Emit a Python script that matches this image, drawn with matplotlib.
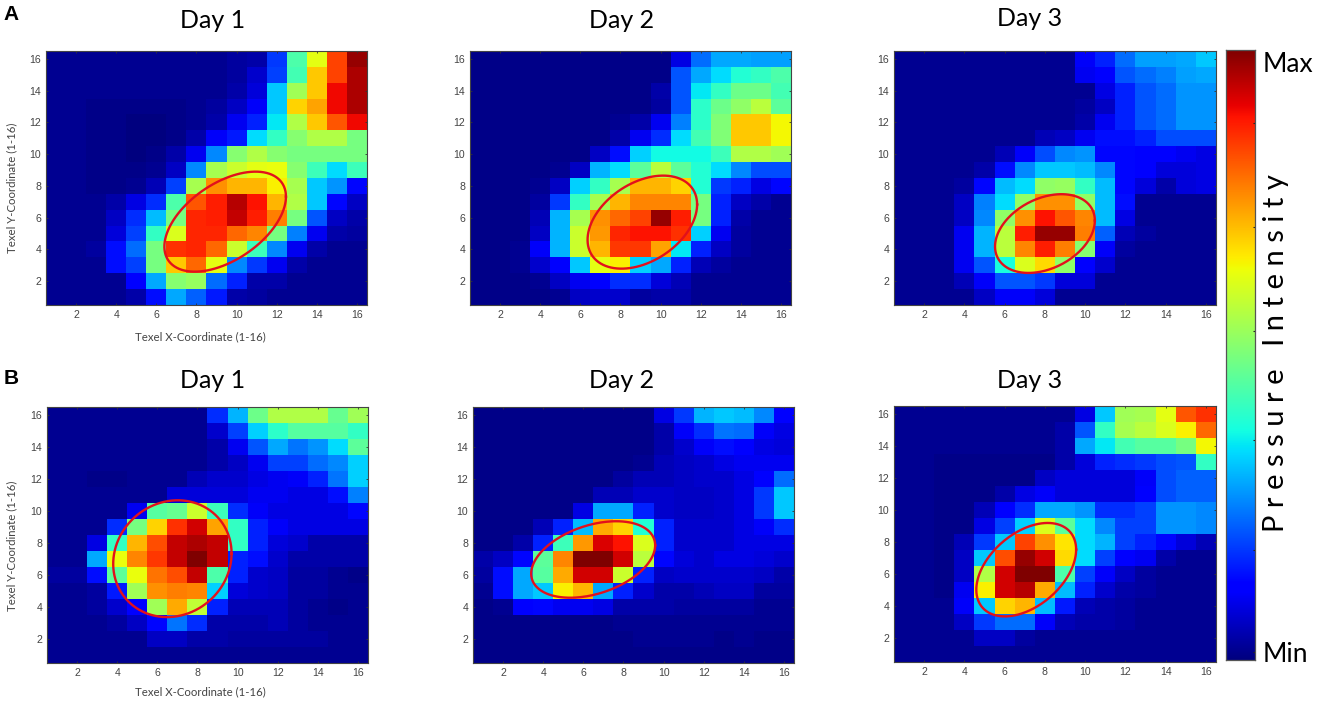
import numpy as np
import matplotlib
matplotlib.use("Agg")
import matplotlib.pyplot as plt

W, H = 1325, 706

# values in percent of the colour scale, rows run from y=16 down to y=1
a_day1 = [
    [3,3,3,3,3,3,3,3,3,4,5,19,45,63,84,98],
    [3,3,3,3,3,3,3,3,3,4,8,20,44,70,84,96],
    [3,3,3,3,3,3,3,3,3,5,9,33,55,70,90,96],
    [3,3,2,2,2,2,2,3,4,7,12,33,69,74,90,96],
    [3,3,2,2,1,1,2,3,5,11,17,36,57,70,82,90],
    [3,3,2,2,1,1,2,5,12,16,35,42,52,57,57,50],
    [3,3,2,2,1,2,5,11,27,52,57,52,50,50,50,50],
    [3,3,2,2,2,3,7,27,56,60,63,64,52,43,35,43],
    [3,3,2,2,3,6,20,56,76,72,72,66,56,33,28,14],
    [3,3,3,5,10,18,45,82,88,95,89,72,57,33,14,7],
    [3,3,3,7,18,32,50,87,88,94,88,78,50,22,7,5],
    [3,3,3,9,20,42,62,87,87,80,77,50,26,11,5,4],
    [3,3,4,15,24,50,86,87,80,60,43,27,11,5,3,3],
    [3,3,3,15,20,50,70,80,63,27,19,11,5,3,3,3],
    [3,3,3,3,13,30,52,54,24,17,5,5,3,3,3,3],
    [3,3,3,3,5,15,30,23,16,5,4,3,3,3,3,3],
]
a_day2 = [
    [2,2,2,2,2,2,2,2,2,2,10,24,30,30,29,29],
    [2,2,2,2,2,2,2,2,2,2,22,30,35,40,42,45],
    [2,2,2,2,2,2,2,2,2,5,22,36,42,49,49,44],
    [2,2,2,2,2,2,2,2,2,4,22,41,49,53,58,47],
    [2,2,2,2,2,2,2,3,5,11,26,41,51,70,70,65],
    [2,2,2,2,2,2,2,5,11,18,35,44,51,70,70,65],
    [2,2,2,2,2,2,7,15,34,38,38,38,43,57,57,55],
    [2,2,2,2,3,7,31,35,47,58,47,40,35,27,21,21],
    [2,2,2,3,7,34,42,56,72,72,69,40,19,17,10,14],
    [2,2,2,4,19,42,56,72,77,77,77,50,17,7,5,3],
    [2,2,2,6,31,56,76,80,84,98,88,50,17,5,3,3],
    [2,2,2,7,31,60,75,87,89,89,86,34,11,4,3,3],
    [2,2,3,12,31,60,72,85,85,74,36,17,7,4,3,3],
    [2,2,3,8,13,33,63,66,34,30,17,6,4,3,3,3],
    [2,2,2,3,7,11,13,18,18,9,6,3,3,3,3,3],
    [2,2,2,2,3,7,8,8,4,5,5,3,3,3,3,3],
]
a_day3 = [
    [3,3,3,3,3,3,3,3,3,12,17,24,29,29,30,33],
    [3,3,3,3,3,3,3,3,3,11,13,22,24,26,29,30],
    [3,3,3,3,3,3,3,3,3,3,10,17,22,24,28,28],
    [3,3,3,3,3,3,3,3,3,4,7,17,22,24,28,28],
    [3,3,3,3,3,3,3,3,3,5,11,17,22,24,28,28],
    [3,3,3,3,3,3,3,6,7,11,15,15,17,21,21,21],
    [3,3,3,3,3,6,12,21,27,28,14,14,13,13,11,10],
    [3,3,3,3,5,15,27,33,33,32,27,14,13,9,9,10],
    [3,3,3,4,14,32,35,53,54,42,32,14,9,5,9,10],
    [3,3,3,7,26,35,53,76,76,53,32,15,3,3,3,3],
    [3,3,3,7,27,53,76,89,82,77,32,10,3,3,3,3],
    [3,3,3,11,31,58,88,98,98,78,23,6,4,3,3,3],
    [3,3,3,11,31,58,77,88,78,52,12,4,3,3,3,3],
    [3,3,3,11,22,39,62,68,53,13,8,3,3,3,3,3],
    [3,3,3,6,12,22,22,19,9,9,3,3,3,3,3,3],
    [3,3,3,3,7,12,12,9,3,3,3,3,3,3,3,3],
]
b_day1 = [
    [3,3,3,3,3,3,3,3,18,31,49,57,57,57,48,55],
    [3,3,3,3,3,3,3,3,8,20,34,41,46,46,46,42],
    [3,3,3,3,3,3,3,3,5,11,22,30,25,28,35,47],
    [3,3,3,3,3,3,3,3,5,7,11,20,20,24,27,34],
    [3,3,2,2,3,3,3,6,8,8,10,11,12,17,25,34],
    [3,3,3,3,3,3,9,9,9,9,11,11,10,10,15,26],
    [3,3,3,3,11,46,48,60,43,18,12,10,10,10,10,14],
    [3,3,3,18,50,69,86,93,74,42,17,12,10,10,10,10],
    [3,3,10,42,72,83,94,96,94,42,17,9,8,5,5,5],
    [3,3,30,64,77,85,94,100,94,17,15,8,5,5,5,5],
    [4,4,15,47,64,79,83,94,45,17,8,7,4,4,3,2],
    [3,3,4,16,55,76,78,77,34,9,8,7,4,4,3,3],
    [3,3,4,8,13,55,73,59,17,6,6,6,4,3,2,3],
    [3,3,3,4,7,14,25,18,5,5,5,6,4,3,3,3],
    [3,3,3,3,3,7,7,5,5,4,4,4,4,4,3,3],
    [3,3,3,3,3,3,3,3,3,3,3,3,3,3,3,3],
]
b_day2 = [
    [2,2,2,2,2,2,2,2,2,10,19,31,33,32,27,13],
    [2,2,2,2,2,2,2,2,2,5,12,18,25,24,12,10],
    [2,2,2,2,2,2,2,2,2,5,8,12,15,13,10,9],
    [2,2,2,2,2,2,2,2,3,6,7,8,10,11,11,11],
    [2,2,2,2,2,2,2,4,6,6,7,8,8,10,13,24],
    [2,2,2,2,2,2,6,6,8,8,7,7,8,10,19,33],
    [2,2,2,2,2,10,30,30,17,8,7,7,8,10,19,33],
    [2,2,2,6,17,32,73,69,40,17,8,8,8,10,12,18],
    [2,2,5,17,43,75,92,89,62,17,8,8,8,10,10,10],
    [5,7,14,47,77,100,100,93,58,14,9,8,10,10,9,8],
    [4,15,30,46,73,93,93,60,17,7,8,8,8,8,7,5],
    [3,15,30,33,66,72,30,17,8,5,5,6,7,7,4,4],
    [2,3,13,14,11,11,10,5,5,5,4,4,4,4,3,3],
    [2,2,2,2,2,2,2,3,3,3,3,3,3,3,3,3],
    [2,2,2,2,2,2,2,2,3,3,3,3,2,3,2,2],
    [2,2,2,2,2,2,2,2,2,2,2,2,2,2,2,2],
]
b_day3 = [
    [3,3,3,3,3,3,3,3,3,10,33,55,56,63,82,86],
    [3,3,3,3,3,3,3,3,5,22,42,56,58,62,66,80],
    [3,3,3,3,3,3,3,3,5,30,36,44,46,46,50,65],
    [3,3,2,2,2,2,2,2,5,9,17,18,19,21,22,42],
    [3,3,2,2,2,2,2,7,9,9,9,9,12,21,23,23],
    [3,3,2,2,2,5,10,12,9,9,9,9,13,21,23,23],
    [3,3,2,2,6,13,18,30,30,28,18,18,20,28,28,27],
    [3,3,2,2,10,20,34,62,47,35,27,20,20,28,28,27],
    [3,3,2,6,19,33,84,76,67,35,31,20,17,14,9,6],
    [3,3,2,7,33,83,98,93,68,35,20,13,11,5,3,3],
    [3,3,2,7,57,93,100,100,45,20,12,7,4,3,3,3],
    [3,3,2,11,66,93,95,73,32,17,8,5,4,3,3,3],
    [3,3,3,12,33,69,72,32,16,6,5,4,3,3,3,3],
    [3,3,3,7,19,24,24,12,6,5,5,4,3,3,3,3],
    [3,3,3,3,7,7,4,3,3,3,3,3,3,3,3,3],
    [3,3,3,3,3,3,3,3,3,3,3,3,3,3,3,3],
]

day_labels = ["Day 1", "Day 2", "Day 3"]
tick_vals = [2, 4, 6, 8, 10, 12, 14, 16]
x_label = "Texel X-Coordinate (1-16)"
y_label = "Texel Y-Coordinate (1-16)"
bar_ticks = [0.013, 0.18, 0.36, 0.54, 0.71, 0.88]

# left, right, top, bottom in pixels, then the red ring: cx, cy, rx, ry, tilt
panels = [
    (a_day1, 46, 367, 51, 305, (9.43, 5.75, 3.03, 3.15, 0.50), day_labels[0], 213, 21),
    (a_day2, 470, 791, 51, 305, (9.09, 5.72, 2.73, 2.93, 0.38), day_labels[1], 622, 21),
    (a_day3, 894, 1216, 51, 305, (8.00, 5.00, 2.48, 2.48, 0.33), day_labels[2], 1030, 19),
    (b_day1, 47, 368, 407, 663, (6.75, 7.02, 2.95, 3.65, 0.09), day_labels[0], 213, 381),
    (b_day2, 473, 794, 407, 663, (6.49, 6.97, 3.09, 2.39, 0.37), day_labels[1], 622, 381),
    (b_day3, 894, 1216, 406, 662, (7.07, 6.27, 2.48, 2.92, 0.43), day_labels[2], 1030, 381),
]


def axes_px(fig, left, right, top, bottom):
    return fig.add_axes([left / W, 1 - bottom / H, (right - left) / W, (bottom - top) / H])


def text_px(fig, x, y, s, **kw):
    fig.text(x / W, 1 - y / H, s, ha="center", va="center", **kw)


fig = plt.figure(figsize=(W / 100, H / 100), dpi=100)

t = np.linspace(0, 2 * np.pi, 200)
for vals, left, right, top, bottom, ring, title, tx, ty in panels:
    ax = axes_px(fig, left, right, top, bottom)
    ax.imshow(np.array(vals) / 100, cmap="jet", vmin=0.012, vmax=1, aspect="auto",
              interpolation="nearest", extent=[0.5, 16.5, 0.5, 16.5], origin="upper")
    cx, cy, rx, ry, tilt = ring
    ax.plot(cx + rx * np.cos(t),
            cy + ry * (np.sqrt(1 - tilt ** 2) * np.sin(t) + tilt * np.cos(t)),
            color="#e2101c", lw=1.7)
    ax.set_xticks(tick_vals)
    ax.set_yticks(tick_vals)
    ax.tick_params(direction="in", length=1.5, width=0.6, color="#333333",
                   top=True, right=True, labelsize=7.6, labelcolor="#444444", pad=3.5)
    for label in ax.get_xticklabels() + ax.get_yticklabels():
        label.set_family("Liberation Sans")
    for sp in ax.spines.values():
        sp.set_color("#444444")
        sp.set_linewidth(0.8)
    text_px(fig, tx, ty, title, fontsize=18, family="Lato", color="black")

text_px(fig, 200, 337, x_label, fontsize=8.2, family="Lato", color="#444444")
text_px(fig, 200, 692, x_label, fontsize=8.2, family="Lato", color="#444444")
text_px(fig, 12, 188, y_label, fontsize=8.2, family="Lato", color="#444444", rotation=90)
text_px(fig, 12, 546, y_label, fontsize=8.2, family="Lato", color="#444444", rotation=90)

text_px(fig, 11, 15, "A", fontsize=15, family="Liberation Sans", fontweight="bold")
text_px(fig, 11, 378, "B", fontsize=15, family="Liberation Sans", fontweight="bold")

# colour bar
cax = axes_px(fig, 1226, 1255, 50, 660)
cax.imshow(np.linspace(1, 0, 256)[:, None], cmap="jet", vmin=0, vmax=1, aspect="auto",
           extent=[0, 1, 0, 1])
cax.set_xticks([])
cax.yaxis.tick_right()
cax.set_yticks(bar_ticks)
cax.set_yticklabels([])
cax.tick_params(direction="in", length=1.5, width=0.8, color="#222222")
for sp in cax.spines.values():
    sp.set_color("#555555")
    sp.set_linewidth(0.9)

text_px(fig, 1288, 64, "Max", fontsize=19, family="Lato")
text_px(fig, 1285, 654, "Min", fontsize=19, family="Lato")
text_px(fig, 1276, 353, "P r e s s u r e   I n t e n s i t y", fontsize=21,
        family="Lato", rotation=90)

fig.savefig("out.png", dpi=100)
plt.close(fig)
